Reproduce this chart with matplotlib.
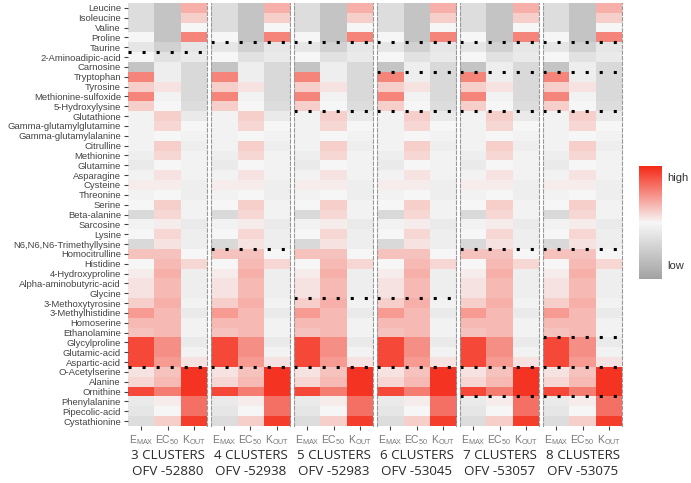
import matplotlib
matplotlib.use("Agg")
import matplotlib.pyplot as plt
import numpy as np
from matplotlib.colors import LinearSegmentedColormap


metabolites = ["Leucine", "Isoleucine", "Valine", "Proline", "Taurine", "2-Aminoadipic-acid",
               "Carnosine", "Tryptophan", "Tyrosine", "Methionine-sulfoxide", "5-Hydroxylysine",
               "Glutathione", "Gamma-glutamylglutamine", "Gamma-glutamylalanine", "Citrulline",
               "Methionine", "Glutamine", "Asparagine", "Cysteine", "Threonine", "Serine",
               "Beta-alanine", "Sarcosine", "Lysine", "N6,N6,N6-Trimethyllysine", "Homocitrulline",
               "Histidine", "4-Hydroxyproline", "Alpha-aminobutyric-acid", "Glycine",
               "3-Methoxytyrosine", "3-Methylhistidine", "Homoserine", "Ethanolamine",
               "Glycylproline", "Glutamic-acid", "Aspartic-acid", "O-Acetylserine", "Alanine",
               "Ornithine", "Phenylalanine", "Pipecolic-acid", "Cystathionine"]

params = ["E$_{\\mathregular{MAX}}$", "EC$_{\\mathregular{50}}$", "K$_{\\mathregular{OUT}}$"]

# scaled values, -1 = low (grey), 1 = high (red)
emax = [-0.3, -0.3, -0.3, 0.0, -0.2, 0.0, -0.6, 0.55, 0.2, 0.55, 0.2, -0.05, -0.05, -0.05,
        -0.05, -0.1, -0.15, -0.05, 0.05, -0.05, 0.0, -0.35, -0.05, 0.0, -0.35, 0.25, 0.0,
        0.05, 0.1, 0.1, 0.2, 0.45, 0.3, 0.25, 0.85, 0.85, 0.85, 0.1, 0.15, 0.85, -0.15, -0.2, -0.3]
ec50 = [-0.6, -0.6, -0.6, -0.6, -0.45, -0.25, -0.1, -0.1, 0.1, -0.05, 0.0, 0.2, 0.15, 0.0,
        0.2, 0.15, 0.0, 0.1, 0.05, 0.0, 0.2, 0.15, 0.05, 0.15, 0.1, 0.25, 0.3, 0.35, 0.3, 0.3,
        0.35, 0.3, 0.3, 0.3, 0.5, 0.5, 0.45, 0.25, 0.3, 0.6, 0.05, 0.0, 0.2]
kout = [0.35, 0.2, 0.0, 0.55, -0.2, -0.15, -0.35, -0.35, -0.35, -0.35, -0.3, -0.15, 0.0, -0.05,
        -0.1, -0.05, -0.05, -0.05, -0.1, -0.1, -0.05, -0.05, -0.15, -0.1, -0.1, 0.0, 0.15, -0.1,
        -0.1, -0.1, -0.05, -0.15, -0.05, -0.05, -0.15, -0.05, 0.1, 0.95, 0.95, 0.95, 0.65, 0.65, 0.9]

panel_titles = ["3 CLUSTERS\nOFV -52880", "4 CLUSTERS\nOFV -52938", "5 CLUSTERS\nOFV -52983",
                "6 CLUSTERS\nOFV -53045", "7 CLUSTERS\nOFV -53057", "8 CLUSTERS\nOFV -53075"]

# cluster borders: after row number (1-based)
cluster_breaks = [[5, 37],
                  [4, 25, 37],
                  [4, 11, 30, 37],
                  [4, 7, 11, 30, 37],
                  [4, 7, 11, 25, 37, 40],
                  [4, 7, 11, 25, 34, 37, 40]]

cmap = LinearSegmentedColormap.from_list("greyred", ["#a3a3a3", "#f7f7f7", "#f52a18"])

data = np.column_stack([emax, ec50, kout])
n = len(metabolites)

fig = plt.figure(figsize=(6.91, 4.83), dpi=100)

W, H = 691.0, 483.0
top, bottom = 3, 426
lefts = [128, 211, 294, 377, 460, 543]
pw = 79

for p in range(6):
    ax = fig.add_axes([lefts[p] / W, 1 - bottom / H, pw / W, (bottom - top) / H])
    ax.imshow(data, cmap=cmap, vmin=-1, vmax=1, aspect="auto", interpolation="nearest")
    for b in cluster_breaks[p]:
        ax.axhline(b - 0.5, color="black", lw=2.2, linestyle=(0, (1, 3.6)), clip_on=False)
    ax.set_xticks(range(3))
    ax.set_xticklabels(params, fontsize=7.5, color="#777777", family="Liberation Sans")
    ax.tick_params(axis="x", length=3, color="#444444", pad=2)
    if p == 0:
        ax.set_yticks(range(n))
        ax.set_yticklabels(metabolites, fontsize=6.8, color="#444444", family="Liberation Sans")
        ax.tick_params(axis="y", length=3, color="#444444", pad=2)
    else:
        ax.set_yticks([])
    for s in ["top", "bottom"]:
        ax.spines[s].set_visible(False)
    for s in ["left", "right"]:
        ax.spines[s].set_color("#999999")
        ax.spines[s].set_linestyle((0, (3, 2)))
        ax.spines[s].set_linewidth(0.8)
    if p == 0:
        ax.spines["left"].set_visible(False)
    fig.text((lefts[p] + pw / 2) / W, 1 - 449 / H, panel_titles[p], ha="center", va="top",
             fontsize=9.6, color="#2a2a2a", family="Open Sans", linespacing=1.3)

# legend bar
cax = fig.add_axes([639 / W, 1 - 279 / H, 23 / W, 113 / H])
grad = np.linspace(1, -1, 200).reshape(-1, 1)
cax.imshow(grad, cmap=cmap, vmin=-1, vmax=1, aspect="auto", extent=[0, 1, 0, 1])
cax.set_xticks([])
cax.set_yticks([])
for s in cax.spines.values():
    s.set_visible(False)
fig.text(667 / W, 1 - 178 / H, "high", fontsize=8, color="#333333", va="center",
         family="Liberation Sans")
fig.text(667 / W, 1 - 266 / H, "low", fontsize=8, color="#333333", va="center",
         family="Liberation Sans")

fig.savefig("out.png", dpi=100)
